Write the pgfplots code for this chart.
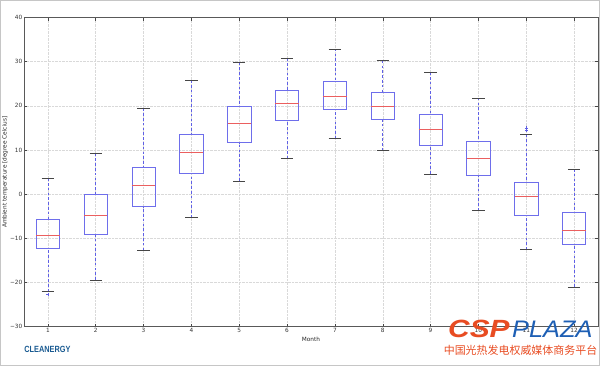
\documentclass[border=0pt]{standalone}
\usepackage{pgfplots}
\pgfplotsset{compat=1.18}
\usepgfplotslibrary{statistics}
\usepackage{fontspec}
\setmainfont{DejaVu Sans}
\newfontfamily\logofont{Liberation Sans}
\newfontfamily\cjk{Noto Sans CJK SC}
\definecolor{boxblue}{RGB}{110,110,235}
\definecolor{medred}{RGB}{235,95,95}
\definecolor{whiskblue}{RGB}{95,95,230}
\definecolor{capgray}{RGB}{70,70,70}
\definecolor{cspred}{RGB}{232,76,34}
\definecolor{plazablue}{RGB}{30,95,180}
\definecolor{cleanblue}{RGB}{25,90,145}
\newcommand{\bp}[6]{\addplot[boxplot prepared={draw direction=y, draw position=#1, median=#2, upper quartile=#3, lower quartile=#4, upper whisker=#5, lower whisker=#6}] coordinates {};}
\begin{document}
\begin{tikzpicture}
\begin{axis}[
  at={(0,0)}, anchor=south west,
  scale only axis, width=574bp, height=309.2bp,
  xmin=0.5, xmax=12.5, ymin=-30, ymax=40,
  xtick={1,...,12}, ytick={-30,-20,...,40},
  yticklabels={−30,−20,−10,0,10,20,30,40},
  grid=major, grid style={gray!30, densely dotted, line width=0.5bp},
  tick align=inside, major tick length=3bp,
  tick style={capgray, line width=0.5bp},
  axis line style={black!65, line width=0.6bp},
  tick label style={font=\fontsize{5.8}{7}\selectfont, text=black!80},
  xticklabel style={inner sep=1.5bp},
  yticklabel style={inner sep=1.5bp},
  /pgf/number format/assume math mode=true,
  xlabel={Month}, ylabel={Ambient temperature [degree Celcius]},
  label style={font=\fontsize{5.8}{7}\selectfont, text=black!85},
  xlabel style={at={(axis description cs:0.5,-0.04)}, anchor=center},
  ylabel style={at={(axis description cs:-0.033,0.5)}, anchor=center},
  boxplot/draw direction=y,
  boxplot/box extend=0.49,
  boxplot/whisker extend=0.26,
  boxplot/every box/.style={draw=boxblue, line width=0.7bp},
  boxplot/every median/.style={draw=medred, line width=0.7bp},
  boxplot/draw/lower whisker/.code={%
    \draw[whiskblue, line width=0.7bp, dash pattern=on 2.6bp off 2.2bp]
      (boxplot cs:\pgfplotsboxplotvalue{lower whisker}) --
      (boxplot cs:\pgfplotsboxplotvalue{lower quartile});
    \draw[capgray, line width=0.7bp]
      (boxplot whisker cs:\pgfplotsboxplotvalue{lower whisker},0) --
      (boxplot whisker cs:\pgfplotsboxplotvalue{lower whisker},1);
  },
  boxplot/draw/upper whisker/.code={%
    \draw[whiskblue, line width=0.7bp, dash pattern=on 2.6bp off 2.2bp]
      (boxplot cs:\pgfplotsboxplotvalue{upper whisker}) --
      (boxplot cs:\pgfplotsboxplotvalue{upper quartile});
    \draw[capgray, line width=0.7bp]
      (boxplot whisker cs:\pgfplotsboxplotvalue{upper whisker},0) --
      (boxplot whisker cs:\pgfplotsboxplotvalue{upper whisker},1);
  },
]
\addplot[boxplot prepared={draw direction=y, draw position=1, median=-9.3, upper quartile=-5.7, lower quartile=-12.3, upper whisker=3.6, lower whisker=-22.0}, mark=+, mark size=1.5bp, mark options={whiskblue}] table[row sep=\\, y index=0] {-22.6\\};
\bp{2}{-4.7}{0.0}{-9.1}{9.2}{-19.4}
\bp{3}{2.0}{6.1}{-2.8}{19.4}{-12.7}
\bp{4}{9.5}{13.5}{4.8}{25.8}{-5.3}
\bp{5}{16.1}{19.9}{11.7}{29.8}{3.0}
\bp{6}{20.5}{23.6}{16.8}{30.8}{8.1}
\bp{7}{22.2}{25.6}{19.2}{32.9}{12.6}
\bp{8}{19.8}{23.0}{17.0}{30.2}{9.9}
\bp{9}{14.7}{18.1}{11.1}{27.6}{4.6}
\bp{10}{8.2}{11.9}{4.3}{21.8}{-3.7}
\addplot[boxplot prepared={draw direction=y, draw position=11, median=-0.6, upper quartile=2.7, lower quartile=-4.7, upper whisker=13.6, lower whisker=-12.6}, mark=+, mark size=1.5bp, mark options={whiskblue}] table[row sep=\\, y index=0] {14.4\\15.0\\};
\bp{12}{-8.1}{-4.1}{-11.4}{5.7}{-21.0}
\end{axis}
% logos
\node[text=cleanblue, font=\logofont\bfseries\fontsize{9}{10}\selectfont, inner sep=0pt] at (23.5bp,-22.3bp) {\scalebox{0.82}[1]{CLEANERGY}};
\node[text=cspred, font=\logofont\bfseries\itshape\fontsize{25}{26}\selectfont, inner sep=0pt, anchor=base west] at (424bp,-11bp) {\scalebox{1.2}[1]{CSP}};
\node[text=plazablue, font=\logofont\itshape\fontsize{24}{26}\selectfont, inner sep=0pt, anchor=base west] at (488bp,-11bp) {\scalebox{1.06}[1]{PLAZA}};
\node[text=cspred, font=\cjk\fontsize{11}{12}\selectfont, inner sep=0pt] at (496.5bp,-24bp) {中国光热发电权威媒体商务平台};
\draw[gray!45, line width=0.8bp] (-23.6bp,-38.9bp) rectangle (575.6bp,326.3bp);
\pgfresetboundingbox
\path (-24bp,-39.3bp) rectangle (576bp,326.7bp);
\end{tikzpicture}
\end{document}
